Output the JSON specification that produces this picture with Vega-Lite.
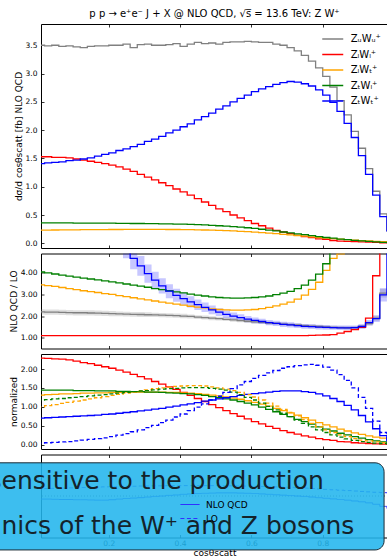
{
"$schema":"https://vega.github.io/schema/vega-lite/v6.json",
"padding":{"left":-14,"top":8,"right":0,"bottom":0},
"background":"white",
"spacing":5.5,
"bounds":"flush",
"resolve":{"scale":{"color":"independent","strokeDash":"independent"},"legend":{"color":"independent","strokeDash":"independent"}},
"config":{
 "font":"DejaVu Sans",
 "view":{"stroke":"#000","strokeWidth":1},
 "axis":{"domain":false,"grid":false,"tickSize":-3,"tickColor":"#000","tickWidth":0.8,"labelFont":"DejaVu Sans","labelFontSize":7.5,"labelColor":"#000","labelPadding":7,"labelOverlap":false,"labelBound":false,"titleFont":"DejaVu Sans","titleFontSize":9,"titleFontWeight":"normal","titleColor":"#000"},
 "legend":{"labelFont":"DejaVu Sans","labelColor":"#000"},
 "title":{"font":"DejaVu Sans","fontSize":10,"fontWeight":"normal","color":"#000"}
},
"datasets":{
 "top":[
{"x":0,"UU":3.50,"LL":1.53,"LT":0.232,"TL":0.36,"TT":1.41},
{"x":0.02,"UU":3.49,"LL":1.53,"LT":0.234,"TL":0.36,"TT":1.42},
{"x":0.04,"UU":3.50,"LL":1.52,"LT":0.235,"TL":0.36,"TT":1.43},
{"x":0.06,"UU":3.48,"LL":1.52,"LT":0.237,"TL":0.36,"TT":1.44},
{"x":0.08,"UU":3.49,"LL":1.51,"LT":0.237,"TL":0.36,"TT":1.46},
{"x":0.10,"UU":3.47,"LL":1.49,"LT":0.239,"TL":0.358,"TT":1.47},
{"x":0.12,"UU":3.46,"LL":1.47,"LT":0.241,"TL":0.358,"TT":1.49},
{"x":0.14,"UU":3.48,"LL":1.45,"LT":0.241,"TL":0.358,"TT":1.51},
{"x":0.16,"UU":3.49,"LL":1.43,"LT":0.242,"TL":0.355,"TT":1.54},
{"x":0.18,"UU":3.49,"LL":1.41,"LT":0.242,"TL":0.355,"TT":1.57},
{"x":0.20,"UU":3.50,"LL":1.38,"LT":0.244,"TL":0.355,"TT":1.60},
{"x":0.22,"UU":3.50,"LL":1.35,"LT":0.244,"TL":0.353,"TT":1.64},
{"x":0.24,"UU":3.52,"LL":1.31,"LT":0.246,"TL":0.353,"TT":1.67},
{"x":0.26,"UU":3.46,"LL":1.27,"LT":0.246,"TL":0.35,"TT":1.71},
{"x":0.28,"UU":3.51,"LL":1.22,"LT":0.246,"TL":0.35,"TT":1.75},
{"x":0.30,"UU":3.52,"LL":1.17,"LT":0.246,"TL":0.348,"TT":1.80},
{"x":0.32,"UU":3.50,"LL":1.12,"LT":0.246,"TL":0.348,"TT":1.84},
{"x":0.34,"UU":3.50,"LL":1.07,"LT":0.246,"TL":0.345,"TT":1.89},
{"x":0.36,"UU":3.51,"LL":1.02,"LT":0.244,"TL":0.343,"TT":1.95},
{"x":0.38,"UU":3.53,"LL":0.96,"LT":0.244,"TL":0.34,"TT":2.00},
{"x":0.40,"UU":3.48,"LL":0.91,"LT":0.242,"TL":0.338,"TT":2.06},
{"x":0.42,"UU":3.52,"LL":0.85,"LT":0.241,"TL":0.335,"TT":2.11},
{"x":0.44,"UU":3.55,"LL":0.79,"LT":0.239,"TL":0.33,"TT":2.18},
{"x":0.46,"UU":3.53,"LL":0.73,"LT":0.235,"TL":0.325,"TT":2.24},
{"x":0.48,"UU":3.54,"LL":0.67,"LT":0.232,"TL":0.318,"TT":2.30},
{"x":0.50,"UU":3.52,"LL":0.61,"LT":0.228,"TL":0.31,"TT":2.37},
{"x":0.52,"UU":3.55,"LL":0.56,"LT":0.223,"TL":0.303,"TT":2.43},
{"x":0.54,"UU":3.56,"LL":0.50,"LT":0.218,"TL":0.295,"TT":2.50},
{"x":0.56,"UU":3.56,"LL":0.45,"LT":0.212,"TL":0.285,"TT":2.56},
{"x":0.58,"UU":3.57,"LL":0.40,"LT":0.205,"TL":0.275,"TT":2.62},
{"x":0.60,"UU":3.56,"LL":0.35,"LT":0.198,"TL":0.263,"TT":2.68},
{"x":0.62,"UU":3.55,"LL":0.31,"LT":0.189,"TL":0.248,"TT":2.73},
{"x":0.64,"UU":3.55,"LL":0.27,"LT":0.181,"TL":0.233,"TT":2.77},
{"x":0.66,"UU":3.52,"LL":0.23,"LT":0.17,"TL":0.218,"TT":2.81},
{"x":0.68,"UU":3.50,"LL":0.20,"LT":0.159,"TL":0.2,"TT":2.84},
{"x":0.70,"UU":3.46,"LL":0.17,"LT":0.149,"TL":0.185,"TT":2.86},
{"x":0.72,"UU":3.40,"LL":0.14,"LT":0.138,"TL":0.168,"TT":2.85},
{"x":0.74,"UU":3.32,"LL":0.12,"LT":0.126,"TL":0.153,"TT":2.82},
{"x":0.76,"UU":3.22,"LL":0.10,"LT":0.115,"TL":0.135,"TT":2.78},
{"x":0.78,"UU":3.10,"LL":0.08,"LT":0.103,"TL":0.118,"TT":2.71},
{"x":0.80,"UU":2.95,"LL":0.07,"LT":0.092,"TL":0.103,"TT":2.62},
{"x":0.82,"UU":2.76,"LL":0.05,"LT":0.083,"TL":0.09,"TT":2.49},
{"x":0.84,"UU":2.52,"LL":0.04,"LT":0.073,"TL":0.075,"TT":2.33},
{"x":0.86,"UU":2.27,"LL":0.035,"LT":0.064,"TL":0.065,"TT":2.12},
{"x":0.88,"UU":1.98,"LL":0.03,"LT":0.055,"TL":0.053,"TT":1.87},
{"x":0.90,"UU":1.68,"LL":0.025,"LT":0.048,"TL":0.043,"TT":1.55},
{"x":0.92,"UU":1.32,"LL":0.02,"LT":0.041,"TL":0.033,"TT":1.22},
{"x":0.94,"UU":0.92,"LL":0.015,"LT":0.035,"TL":0.025,"TT":0.85},
{"x":0.96,"UU":0.52,"LL":0.01,"LT":0.03,"TL":0.018,"TT":0.47},
{"x":0.98,"UU":0.22,"LL":0.01,"LT":0.027,"TL":0.013,"TT":0.22},
{"x":1.00,"UU":0.22,"LL":0.01,"LT":0.027,"TL":0.013,"TT":0.22}
 ],
 "ratio":[
{"x":0,"UU":2.19,"UUlo":2.07,"UUhi":2.31,"LL":1.10,"LT":3.43,"TL":4.02,"TT":14,"TTlo":13.4,"TThi":14.6},
{"x":0.02,"UU":2.18,"UUlo":2.06,"UUhi":2.30,"LL":1.10,"LT":3.40,"TL":3.98,"TT":13,"TTlo":12.4,"TThi":13.6},
{"x":0.04,"UU":2.18,"UUlo":2.06,"UUhi":2.30,"LL":1.10,"LT":3.36,"TL":3.93,"TT":12,"TTlo":11.4,"TThi":12.6},
{"x":0.06,"UU":2.17,"UUlo":2.05,"UUhi":2.29,"LL":1.10,"LT":3.31,"TL":3.88,"TT":11,"TTlo":10.4,"TThi":11.6},
{"x":0.08,"UU":2.16,"UUlo":2.04,"UUhi":2.28,"LL":1.10,"LT":3.26,"TL":3.83,"TT":10.5,"TTlo":9.9,"TThi":11.1},
{"x":0.10,"UU":2.15,"UUlo":2.03,"UUhi":2.27,"LL":1.10,"LT":3.21,"TL":3.79,"TT":10,"TTlo":9.4,"TThi":10.6},
{"x":0.12,"UU":2.15,"UUlo":2.03,"UUhi":2.27,"LL":1.10,"LT":3.16,"TL":3.74,"TT":9,"TTlo":8.4,"TThi":9.6},
{"x":0.14,"UU":2.14,"UUlo":2.02,"UUhi":2.26,"LL":1.10,"LT":3.12,"TL":3.70,"TT":8.5,"TTlo":7.9,"TThi":9.1},
{"x":0.16,"UU":2.13,"UUlo":2.01,"UUhi":2.25,"LL":1.10,"LT":3.08,"TL":3.66,"TT":8,"TTlo":7.4,"TThi":8.6},
{"x":0.18,"UU":2.12,"UUlo":2.00,"UUhi":2.24,"LL":1.10,"LT":3.03,"TL":3.61,"TT":7,"TTlo":6.4,"TThi":7.6},
{"x":0.20,"UU":2.11,"UUlo":1.99,"UUhi":2.23,"LL":1.10,"LT":2.99,"TL":3.57,"TT":6.5,"TTlo":5.9,"TThi":7.1},
{"x":0.22,"UU":2.10,"UUlo":1.99,"UUhi":2.21,"LL":1.10,"LT":2.94,"TL":3.52,"TT":5.8,"TTlo":5.2,"TThi":6.4},
{"x":0.24,"UU":2.09,"UUlo":1.98,"UUhi":2.20,"LL":1.10,"LT":2.89,"TL":3.47,"TT":5.20,"TTlo":4.65,"TThi":5.75},
{"x":0.26,"UU":2.08,"UUlo":1.97,"UUhi":2.19,"LL":1.10,"LT":2.84,"TL":3.42,"TT":4.65,"TTlo":4.15,"TThi":5.15},
{"x":0.28,"UU":2.07,"UUlo":1.96,"UUhi":2.18,"LL":1.10,"LT":2.79,"TL":3.37,"TT":4.30,"TTlo":3.85,"TThi":4.75},
{"x":0.30,"UU":2.06,"UUlo":1.95,"UUhi":2.17,"LL":1.10,"LT":2.74,"TL":3.32,"TT":3.95,"TTlo":3.53,"TThi":4.37},
{"x":0.32,"UU":2.05,"UUlo":1.95,"UUhi":2.15,"LL":1.10,"LT":2.69,"TL":3.26,"TT":3.65,"TTlo":3.27,"TThi":4.03},
{"x":0.34,"UU":2.04,"UUlo":1.94,"UUhi":2.14,"LL":1.10,"LT":2.64,"TL":3.21,"TT":3.38,"TTlo":3.03,"TThi":3.73},
{"x":0.36,"UU":2.03,"UUlo":1.93,"UUhi":2.13,"LL":1.10,"LT":2.59,"TL":3.16,"TT":3.14,"TTlo":2.82,"TThi":3.46},
{"x":0.38,"UU":2.02,"UUlo":1.92,"UUhi":2.12,"LL":1.10,"LT":2.55,"TL":3.11,"TT":2.95,"TTlo":2.65,"TThi":3.25},
{"x":0.40,"UU":2.00,"UUlo":1.90,"UUhi":2.10,"LL":1.10,"LT":2.50,"TL":3.06,"TT":2.80,"TTlo":2.52,"TThi":3.08},
{"x":0.42,"UU":1.98,"UUlo":1.89,"UUhi":2.07,"LL":1.10,"LT":2.45,"TL":3.01,"TT":2.65,"TTlo":2.39,"TThi":2.91},
{"x":0.44,"UU":1.95,"UUlo":1.86,"UUhi":2.04,"LL":1.10,"LT":2.41,"TL":2.96,"TT":2.52,"TTlo":2.28,"TThi":2.76},
{"x":0.46,"UU":1.93,"UUlo":1.84,"UUhi":2.02,"LL":1.10,"LT":2.37,"TL":2.92,"TT":2.40,"TTlo":2.18,"TThi":2.62},
{"x":0.48,"UU":1.90,"UUlo":1.81,"UUhi":1.99,"LL":1.10,"LT":2.33,"TL":2.88,"TT":2.28,"TTlo":2.08,"TThi":2.48},
{"x":0.50,"UU":1.88,"UUlo":1.79,"UUhi":1.97,"LL":1.10,"LT":2.30,"TL":2.85,"TT":2.18,"TTlo":2.00,"TThi":2.36},
{"x":0.52,"UU":1.85,"UUlo":1.77,"UUhi":1.93,"LL":1.10,"LT":2.28,"TL":2.83,"TT":2.08,"TTlo":1.91,"TThi":2.25},
{"x":0.54,"UU":1.82,"UUlo":1.74,"UUhi":1.90,"LL":1.10,"LT":2.27,"TL":2.82,"TT":2.00,"TTlo":1.84,"TThi":2.16},
{"x":0.56,"UU":1.79,"UUlo":1.71,"UUhi":1.87,"LL":1.10,"LT":2.27,"TL":2.82,"TT":1.93,"TTlo":1.78,"TThi":2.08},
{"x":0.58,"UU":1.76,"UUlo":1.68,"UUhi":1.84,"LL":1.10,"LT":2.28,"TL":2.83,"TT":1.86,"TTlo":1.72,"TThi":2.00},
{"x":0.60,"UU":1.73,"UUlo":1.65,"UUhi":1.81,"LL":1.10,"LT":2.30,"TL":2.85,"TT":1.80,"TTlo":1.67,"TThi":1.93},
{"x":0.62,"UU":1.71,"UUlo":1.64,"UUhi":1.78,"LL":1.10,"LT":2.34,"TL":2.88,"TT":1.75,"TTlo":1.63,"TThi":1.87},
{"x":0.64,"UU":1.68,"UUlo":1.61,"UUhi":1.75,"LL":1.10,"LT":2.40,"TL":2.92,"TT":1.70,"TTlo":1.58,"TThi":1.82},
{"x":0.66,"UU":1.66,"UUlo":1.59,"UUhi":1.73,"LL":1.10,"LT":2.47,"TL":2.98,"TT":1.66,"TTlo":1.54,"TThi":1.78},
{"x":0.68,"UU":1.63,"UUlo":1.56,"UUhi":1.70,"LL":1.10,"LT":2.55,"TL":3.05,"TT":1.62,"TTlo":1.50,"TThi":1.74},
{"x":0.70,"UU":1.61,"UUlo":1.54,"UUhi":1.68,"LL":1.10,"LT":2.64,"TL":3.13,"TT":1.59,"TTlo":1.47,"TThi":1.71},
{"x":0.72,"UU":1.59,"UUlo":1.52,"UUhi":1.66,"LL":1.10,"LT":2.78,"TL":3.26,"TT":1.56,"TTlo":1.45,"TThi":1.67},
{"x":0.74,"UU":1.56,"UUlo":1.49,"UUhi":1.63,"LL":1.10,"LT":2.96,"TL":3.42,"TT":1.53,"TTlo":1.42,"TThi":1.64},
{"x":0.76,"UU":1.54,"UUlo":1.47,"UUhi":1.61,"LL":1.11,"LT":3.22,"TL":3.65,"TT":1.51,"TTlo":1.40,"TThi":1.62},
{"x":0.78,"UU":1.52,"UUlo":1.45,"UUhi":1.59,"LL":1.12,"LT":3.55,"TL":3.92,"TT":1.49,"TTlo":1.38,"TThi":1.60},
{"x":0.80,"UU":1.50,"UUlo":1.43,"UUhi":1.57,"LL":1.13,"LT":4.10,"TL":4.40,"TT":1.48,"TTlo":1.37,"TThi":1.59},
{"x":0.82,"UU":1.48,"UUlo":1.41,"UUhi":1.55,"LL":1.15,"LT":4.65,"TL":5.3,"TT":1.47,"TTlo":1.37,"TThi":1.57},
{"x":0.84,"UU":1.47,"UUlo":1.40,"UUhi":1.54,"LL":1.22,"LT":4.85,"TL":6.2,"TT":1.46,"TTlo":1.36,"TThi":1.56},
{"x":0.86,"UU":1.46,"UUlo":1.39,"UUhi":1.53,"LL":1.29,"LT":5.6,"TL":7.0,"TT":1.46,"TTlo":1.36,"TThi":1.56},
{"x":0.88,"UU":1.47,"UUlo":1.40,"UUhi":1.54,"LL":1.38,"LT":6.3,"TL":7.8,"TT":1.47,"TTlo":1.37,"TThi":1.57},
{"x":0.90,"UU":1.52,"UUlo":1.44,"UUhi":1.60,"LL":1.48,"LT":7.0,"TL":8.5,"TT":1.52,"TTlo":1.42,"TThi":1.62},
{"x":0.92,"UU":1.65,"UUlo":1.55,"UUhi":1.75,"LL":1.90,"LT":7.5,"TL":9.0,"TT":1.70,"TTlo":1.58,"TThi":1.82},
{"x":0.94,"UU":1.90,"UUlo":1.78,"UUhi":2.02,"LL":3.85,"LT":8.0,"TL":9.5,"TT":1.88,"TTlo":1.73,"TThi":2.03},
{"x":0.96,"UU":3.05,"UUlo":2.85,"UUhi":3.25,"LL":8.0,"LT":8.5,"TL":10,"TT":2.97,"TTlo":2.67,"TThi":3.27},
{"x":0.98,"UU":3.10,"UUlo":2.85,"UUhi":3.35,"LL":9.0,"LT":9.0,"TL":10.5,"TT":6.0,"TTlo":5.5,"TThi":6.5},
{"x":1.00,"UU":3.10,"UUlo":2.85,"UUhi":3.35,"LL":9.0,"LT":9.0,"TL":10.5,"TT":6.0,"TTlo":5.5,"TThi":6.5}
 ],
 "norm":[
{"x":0,"LL":2.29,"LT":1.31,"TL":1.44,"TT":0.70,"LTd":1.00,"TLd":1.18,"TTd":0.04},
{"x":0.02,"LL":2.28,"LT":1.32,"TL":1.44,"TT":0.71,"LTd":1.03,"TLd":1.19,"TTd":0.05},
{"x":0.04,"LL":2.27,"LT":1.33,"TL":1.44,"TT":0.72,"LTd":1.06,"TLd":1.21,"TTd":0.06},
{"x":0.06,"LL":2.26,"LT":1.34,"TL":1.44,"TT":0.73,"LTd":1.09,"TLd":1.22,"TTd":0.07},
{"x":0.08,"LL":2.24,"LT":1.34,"TL":1.44,"TT":0.74,"LTd":1.12,"TLd":1.24,"TTd":0.08},
{"x":0.10,"LL":2.21,"LT":1.35,"TL":1.43,"TT":0.75,"LTd":1.15,"TLd":1.25,"TTd":0.10},
{"x":0.12,"LL":2.17,"LT":1.36,"TL":1.43,"TT":0.76,"LTd":1.18,"TLd":1.27,"TTd":0.12},
{"x":0.14,"LL":2.14,"LT":1.36,"TL":1.43,"TT":0.77,"LTd":1.21,"TLd":1.29,"TTd":0.14},
{"x":0.16,"LL":2.10,"LT":1.37,"TL":1.42,"TT":0.78,"LTd":1.24,"TLd":1.31,"TTd":0.16},
{"x":0.18,"LL":2.06,"LT":1.37,"TL":1.42,"TT":0.80,"LTd":1.27,"TLd":1.32,"TTd":0.18},
{"x":0.20,"LL":2.02,"LT":1.38,"TL":1.42,"TT":0.81,"LTd":1.30,"TLd":1.34,"TTd":0.21},
{"x":0.22,"LL":1.97,"LT":1.38,"TL":1.41,"TT":0.83,"LTd":1.33,"TLd":1.36,"TTd":0.25},
{"x":0.24,"LL":1.92,"LT":1.39,"TL":1.41,"TT":0.85,"LTd":1.36,"TLd":1.38,"TTd":0.29},
{"x":0.26,"LL":1.86,"LT":1.39,"TL":1.40,"TT":0.87,"LTd":1.39,"TLd":1.40,"TTd":0.34},
{"x":0.28,"LL":1.80,"LT":1.39,"TL":1.40,"TT":0.89,"LTd":1.42,"TLd":1.42,"TTd":0.39},
{"x":0.30,"LL":1.74,"LT":1.39,"TL":1.39,"TT":0.91,"LTd":1.45,"TLd":1.43,"TTd":0.45},
{"x":0.32,"LL":1.67,"LT":1.39,"TL":1.39,"TT":0.94,"LTd":1.48,"TLd":1.45,"TTd":0.51},
{"x":0.34,"LL":1.60,"LT":1.39,"TL":1.38,"TT":0.96,"LTd":1.50,"TLd":1.47,"TTd":0.58},
{"x":0.36,"LL":1.53,"LT":1.38,"TL":1.37,"TT":0.99,"LTd":1.52,"TLd":1.48,"TTd":0.65},
{"x":0.38,"LL":1.46,"LT":1.38,"TL":1.36,"TT":1.02,"LTd":1.54,"TLd":1.49,"TTd":0.73},
{"x":0.40,"LL":1.38,"LT":1.37,"TL":1.35,"TT":1.05,"LTd":1.55,"TLd":1.50,"TTd":0.81},
{"x":0.42,"LL":1.30,"LT":1.36,"TL":1.34,"TT":1.08,"LTd":1.56,"TLd":1.51,"TTd":0.90},
{"x":0.44,"LL":1.22,"LT":1.35,"TL":1.32,"TT":1.11,"LTd":1.56,"TLd":1.51,"TTd":0.99},
{"x":0.46,"LL":1.14,"LT":1.33,"TL":1.30,"TT":1.15,"LTd":1.55,"TLd":1.51,"TTd":1.08},
{"x":0.48,"LL":1.06,"LT":1.31,"TL":1.27,"TT":1.18,"LTd":1.53,"TLd":1.49,"TTd":1.18},
{"x":0.50,"LL":0.98,"LT":1.29,"TL":1.24,"TT":1.21,"LTd":1.50,"TLd":1.47,"TTd":1.28},
{"x":0.52,"LL":0.90,"LT":1.26,"TL":1.21,"TT":1.24,"LTd":1.47,"TLd":1.44,"TTd":1.38},
{"x":0.54,"LL":0.82,"LT":1.23,"TL":1.18,"TT":1.27,"LTd":1.43,"TLd":1.39,"TTd":1.48},
{"x":0.56,"LL":0.75,"LT":1.20,"TL":1.14,"TT":1.30,"LTd":1.38,"TLd":1.32,"TTd":1.58},
{"x":0.58,"LL":0.68,"LT":1.16,"TL":1.10,"TT":1.33,"LTd":1.32,"TLd":1.25,"TTd":1.67},
{"x":0.60,"LL":0.61,"LT":1.12,"TL":1.05,"TT":1.35,"LTd":1.26,"TLd":1.18,"TTd":1.75},
{"x":0.62,"LL":0.55,"LT":1.07,"TL":0.99,"TT":1.37,"LTd":1.18,"TLd":1.10,"TTd":1.83},
{"x":0.64,"LL":0.48,"LT":1.02,"TL":0.93,"TT":1.39,"LTd":1.10,"TLd":1.01,"TTd":1.90},
{"x":0.66,"LL":0.43,"LT":0.96,"TL":0.87,"TT":1.41,"LTd":1.02,"TLd":0.92,"TTd":1.96},
{"x":0.68,"LL":0.37,"LT":0.90,"TL":0.80,"TT":1.42,"LTd":0.93,"TLd":0.83,"TTd":2.02},
{"x":0.70,"LL":0.32,"LT":0.84,"TL":0.74,"TT":1.42,"LTd":0.85,"TLd":0.74,"TTd":2.06},
{"x":0.72,"LL":0.28,"LT":0.78,"TL":0.67,"TT":1.42,"LTd":0.76,"TLd":0.65,"TTd":2.09},
{"x":0.74,"LL":0.23,"LT":0.71,"TL":0.61,"TT":1.40,"LTd":0.66,"TLd":0.56,"TTd":2.11},
{"x":0.76,"LL":0.20,"LT":0.65,"TL":0.54,"TT":1.38,"LTd":0.56,"TLd":0.47,"TTd":2.12},
{"x":0.78,"LL":0.16,"LT":0.58,"TL":0.47,"TT":1.34,"LTd":0.47,"TLd":0.39,"TTd":2.10},
{"x":0.80,"LL":0.13,"LT":0.52,"TL":0.41,"TT":1.29,"LTd":0.39,"TLd":0.32,"TTd":2.05},
{"x":0.82,"LL":0.11,"LT":0.47,"TL":0.36,"TT":1.22,"LTd":0.32,"TLd":0.26,"TTd":1.97},
{"x":0.84,"LL":0.08,"LT":0.41,"TL":0.30,"TT":1.14,"LTd":0.26,"TLd":0.20,"TTd":1.85},
{"x":0.86,"LL":0.07,"LT":0.36,"TL":0.26,"TT":1.04,"LTd":0.21,"TLd":0.15,"TTd":1.70},
{"x":0.88,"LL":0.05,"LT":0.31,"TL":0.21,"TT":0.92,"LTd":0.16,"TLd":0.11,"TTd":1.50},
{"x":0.90,"LL":0.04,"LT":0.27,"TL":0.17,"TT":0.77,"LTd":0.12,"TLd":0.08,"TTd":1.25},
{"x":0.92,"LL":0.03,"LT":0.23,"TL":0.13,"TT":0.60,"LTd":0.10,"TLd":0.06,"TTd":0.96},
{"x":0.94,"LL":0.02,"LT":0.20,"TL":0.10,"TT":0.42,"LTd":0.07,"TLd":0.04,"TTd":0.62},
{"x":0.96,"LL":0.015,"LT":0.17,"TL":0.07,"TT":0.24,"LTd":0.05,"TLd":0.03,"TTd":0.32},
{"x":0.98,"LL":0.01,"LT":0.15,"TL":0.05,"TT":0.10,"LTd":0.03,"TLd":0.02,"TTd":0.12},
{"x":1.00,"LL":0.01,"LT":0.15,"TL":0.05,"TT":0.10,"LTd":0.03,"TLd":0.02,"TTd":0.12}
 ],
 "interf":[
{"x":0,"NLO":-0.015,"LO":0.035},{"x":0.02,"NLO":-0.015,"LO":0.036},{"x":0.04,"NLO":-0.016,"LO":0.037},{"x":0.06,"NLO":-0.017,"LO":0.038},{"x":0.08,"NLO":-0.017,"LO":0.039},
{"x":0.10,"NLO":-0.018,"LO":0.040},{"x":0.12,"NLO":-0.018,"LO":0.041},{"x":0.14,"NLO":-0.019,"LO":0.042},{"x":0.16,"NLO":-0.020,"LO":0.043},{"x":0.18,"NLO":-0.020,"LO":0.044},
{"x":0.20,"NLO":-0.018,"LO":0.045},{"x":0.22,"NLO":-0.015,"LO":0.046},{"x":0.24,"NLO":-0.012,"LO":0.047},{"x":0.26,"NLO":-0.010,"LO":0.047},{"x":0.28,"NLO":-0.008,"LO":0.048},
{"x":0.30,"NLO":-0.005,"LO":0.048},{"x":0.32,"NLO":-0.002,"LO":0.049},{"x":0.34,"NLO":0.000,"LO":0.049},{"x":0.36,"NLO":0.003,"LO":0.050},{"x":0.38,"NLO":0.005,"LO":0.050},
{"x":0.40,"NLO":0.008,"LO":0.050},{"x":0.42,"NLO":0.010,"LO":0.050},{"x":0.44,"NLO":0.012,"LO":0.050},{"x":0.46,"NLO":0.013,"LO":0.050},{"x":0.48,"NLO":0.014,"LO":0.050},
{"x":0.50,"NLO":0.015,"LO":0.050},{"x":0.52,"NLO":0.015,"LO":0.049},{"x":0.54,"NLO":0.015,"LO":0.049},{"x":0.56,"NLO":0.014,"LO":0.048},{"x":0.58,"NLO":0.013,"LO":0.048},
{"x":0.60,"NLO":0.012,"LO":0.047},{"x":0.62,"NLO":0.010,"LO":0.046},{"x":0.64,"NLO":0.008,"LO":0.045},{"x":0.66,"NLO":0.006,"LO":0.044},{"x":0.68,"NLO":0.004,"LO":0.043},
{"x":0.70,"NLO":0.002,"LO":0.042},{"x":0.72,"NLO":0.000,"LO":0.040},{"x":0.74,"NLO":-0.002,"LO":0.038},{"x":0.76,"NLO":-0.005,"LO":0.036},{"x":0.78,"NLO":-0.008,"LO":0.034},
{"x":0.80,"NLO":-0.011,"LO":0.032},{"x":0.82,"NLO":-0.014,"LO":0.030},{"x":0.84,"NLO":-0.017,"LO":0.028},{"x":0.86,"NLO":-0.020,"LO":0.026},{"x":0.88,"NLO":-0.024,"LO":0.024},
{"x":0.90,"NLO":-0.028,"LO":0.022},{"x":0.92,"NLO":-0.033,"LO":0.020},{"x":0.94,"NLO":-0.040,"LO":0.018},{"x":0.96,"NLO":-0.050,"LO":0.016},{"x":0.98,"NLO":-0.060,"LO":0.014},
{"x":1.00,"NLO":-0.060,"LO":0.014}
 ]
},
"vconcat":[
 {
  "width":347,"height":224,
  "title":{"text":"p p → e⁺e⁻ J + X @ NLO QCD, √s̅ = 13.6 TeV: Z W⁺","anchor":"middle","offset":5},
  "resolve":{"axis":{"x":"independent"}},
  "layer":[
   {"data":{"name":"top"},
    "transform":[{"fold":["UU","LL","LT","TL","TT"],"as":["pol","val"]}],
    "mark":{"type":"line","interpolate":"step-after","strokeWidth":1.3,"clip":true},
    "encoding":{
     "x":{"field":"x","type":"quantitative","scale":{"domain":[0.01,0.983],"nice":false,"zero":false},"axis":{"values":[0.2,0.4,0.6,0.8],"tickCount":10,"labels":false,"title":null}},
     "y":{"field":"val","type":"quantitative","scale":{"domain":[-0.083,3.876],"nice":false,"zero":false},"axis":{"values":[0,0.5,1,1.5,2,2.5,3,3.5],"tickCount":12,"format":".1f","title":"dσ/d cosθscatt [fb] NLO QCD","titlePadding":2}},
     "color":{"field":"pol","type":"nominal","sort":["UU","LL","LT","TL","TT"],"scale":{"domain":["UU","LL","LT","TL","TT"],"range":["#808080","#ff0000","#ffa500","#008000","#0000ff"]},
       "legend":{"orient":"none","legendX":283.75,"legendY":7,"title":null,"symbolType":"M-1.5,0H1.5","symbolSize":196,"symbolStrokeWidth":1.5,"labelFontSize":10,"labelOffset":10,"rowPadding":2.5,"padding":0,
         "labelExpr":"{'UU':'ZᵤWᵤ⁺','LL':'ZₗWₗ⁺','LT':'ZₗWₜ⁺','TL':'ZₜWₗ⁺','TT':'ZₜWₜ⁺'}[datum.label]"}}}},
   {"data":{"values":[{}]},"mark":{"type":"rule","opacity":0},
    "encoding":{"x":{"datum":0.5,"type":"quantitative","axis":{"orient":"top","values":[0.2,0.4,0.6,0.8],"tickCount":10,"labels":false,"title":null}}}}
  ]
 },
 {
  "width":347,"height":95,
  "resolve":{"axis":{"x":"independent"}},
  "layer":[
   {"data":{"name":"ratio"},"mark":{"type":"area","interpolate":"step-after","color":"#808080","opacity":0.25,"clip":true},
    "encoding":{
     "x":{"field":"x","type":"quantitative","scale":{"domain":[0.01,0.983],"nice":false,"zero":false},"axis":{"values":[0.2,0.4,0.6,0.8],"tickCount":10,"labels":false,"title":null}},
     "y":{"field":"UUlo","type":"quantitative","scale":{"domain":[0.51,4.87],"nice":false,"zero":false},"axis":{"values":[1,2,3,4],"tickCount":10,"format":".2f","title":"NLO QCD / LO","titlePadding":2}},
     "y2":{"field":"UUhi"}}},
   {"data":{"name":"ratio"},"mark":{"type":"area","interpolate":"step-after","color":"#0000ff","opacity":0.22,"clip":true},
    "encoding":{"x":{"field":"x","type":"quantitative","axis":null},"y":{"field":"TTlo","type":"quantitative"},"y2":{"field":"TThi"}}},
   {"data":{"name":"ratio"},"transform":[{"fold":["UU","LL","LT","TL","TT"],"as":["pol","val"]}],
    "mark":{"type":"line","interpolate":"step-after","strokeWidth":1.3,"clip":true},
    "encoding":{"x":{"field":"x","type":"quantitative","axis":null},"y":{"field":"val","type":"quantitative"},
     "color":{"field":"pol","type":"nominal","scale":{"domain":["UU","LL","LT","TL","TT"],"range":["#808080","#ff0000","#ffa500","#008000","#0000ff"]},"legend":null}}},
   {"data":{"values":[{}]},"mark":{"type":"rule","opacity":0},
    "encoding":{"x":{"datum":0.5,"type":"quantitative","axis":{"orient":"top","values":[0.2,0.4,0.6,0.8],"tickCount":10,"labels":false,"title":null}}}}
  ]
 },
 {
  "width":347,"height":95,
  "resolve":{"axis":{"x":"independent"}},
  "layer":[
   {"data":{"name":"norm"},"transform":[{"fold":["LL","LT","TL","TT"],"as":["pol","val"]}],
    "mark":{"type":"line","interpolate":"step-after","strokeWidth":1.3,"clip":true},
    "encoding":{
     "x":{"field":"x","type":"quantitative","scale":{"domain":[0.01,0.983],"nice":false,"zero":false},"axis":{"values":[0.2,0.4,0.6,0.8],"tickCount":10,"labels":false,"title":null}},
     "y":{"field":"val","type":"quantitative","scale":{"domain":[-0.116,2.397],"nice":false,"zero":false},"axis":{"values":[0,0.5,1,1.5,2],"tickCount":10,"format":".2f","title":"normalized","titlePadding":2}},
     "color":{"field":"pol","type":"nominal","scale":{"domain":["LL","LT","TL","TT","LTd","TLd","TTd"],"range":["#ff0000","#ffa500","#008000","#0000ff","#ffa500","#008000","#0000ff"]},"legend":null}}},
   {"data":{"name":"norm"},"transform":[{"fold":["LTd","TLd","TTd"],"as":["pol","val"]}],
    "mark":{"type":"line","interpolate":"step-after","strokeWidth":1.3,"strokeDash":[4,2.5],"clip":true},
    "encoding":{"x":{"field":"x","type":"quantitative","axis":null},"y":{"field":"val","type":"quantitative"},
     "color":{"field":"pol","type":"nominal","legend":null}}},
   {"data":{"values":[{}]},"mark":{"type":"rule","opacity":0},
    "encoding":{"x":{"datum":0.5,"type":"quantitative","axis":{"orient":"top","values":[0.2,0.4,0.6,0.8],"tickCount":10,"labels":false,"title":null}}}}
  ]
 },
 {
  "width":347,"height":83,
  "resolve":{"axis":{"x":"independent"}},
  "layer":[
   {"data":{"values":[{}]},"mark":{"type":"rule","strokeDash":[1,2],"color":"#444","strokeWidth":0.8},"encoding":{"y":{"datum":0}}},
   {"data":{"name":"interf"},
    "transform":[{"fold":["NLO","LO"],"as":["order","val"]}],
    "mark":{"type":"line","interpolate":"step-after","strokeWidth":1,"color":"#3030ff","clip":true},
    "encoding":{
     "x":{"field":"x","type":"quantitative","scale":{"domain":[0.01,0.983],"nice":false,"zero":false},"axis":{"values":[0.2,0.4,0.6,0.8],"tickCount":10,"format":".1f","title":"cosθscatt","labelPadding":5,"titlePadding":1}},
     "y":{"field":"val","type":"quantitative","scale":{"domain":[-0.2,0.2],"nice":false,"zero":false},"axis":{"values":[-0.2,-0.1,0,0.1,0.2],"tickCount":10,"format":".2f","title":"interf. pol.","titlePadding":1}},
     "strokeDash":{"field":"order","type":"nominal","scale":{"domain":["NLO","LO"],"range":[[1,0],[4,2.5]]},
       "legend":{"orient":"none","legendX":142,"legendY":43,"title":null,"symbolType":"M-1.6,0H1.6","symbolSize":144,"symbolStrokeWidth":1.2,"symbolStrokeColor":"#3030ff","labelFontSize":9,"labelOffset":9,"rowPadding":2,"padding":0,
        "labelExpr":"datum.label == 'NLO' ? 'NLO QCD' : 'LO'"}}}},
   {"data":{"values":[{}]},"mark":{"type":"rule","opacity":0},
    "encoding":{"x":{"datum":0.5,"type":"quantitative","axis":{"orient":"top","values":[0.2,0.4,0.6,0.8],"tickCount":10,"labels":false,"title":null}}}},
   {"data":{"values":[{}]},
    "mark":{"type":"rect","fill":"#22b5ed","fillOpacity":0.88,"stroke":"#1c2c36","strokeWidth":1,"cornerRadius":9,"clip":false},
    "encoding":{"x":{"datum":-0.1414,"axis":null},"x2":{"datum":0.972},"y":{"datum":0.160,"axis":null},"y2":{"datum":-0.260}}},
   {"data":{"values":[{}]},
    "mark":{"type":"text","align":"left","baseline":"alphabetic","font":"DejaVu Sans","fontSize":25,"color":"#14232b","clip":false},
    "encoding":{"x":{"datum":-0.1372,"axis":null},"y":{"datum":0.032,"axis":null},"text":{"value":"sensitive to the production"}}},
   {"data":{"values":[{}]},
    "mark":{"type":"text","align":"left","baseline":"alphabetic","font":"DejaVu Sans","fontSize":25,"color":"#14232b","clip":false},
    "encoding":{"x":{"datum":-0.1008,"axis":null},"y":{"datum":-0.182,"axis":null},"text":{"value":"nics of the W⁺ and Z bosons"}}}
  ]
 }
]
}
